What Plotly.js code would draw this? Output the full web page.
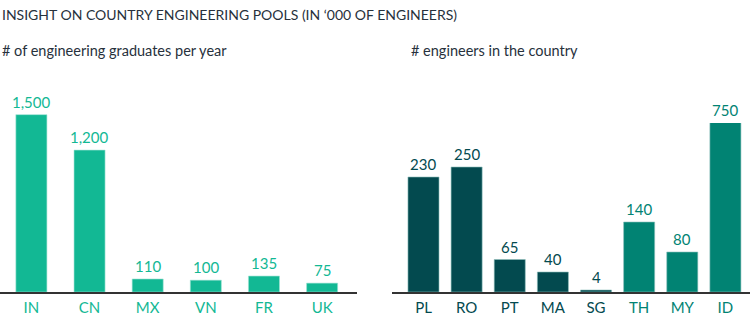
<!DOCTYPE html>
<html>
<head>
<meta charset="utf-8">
<script src="https://cdn.plot.ly/plotly-3.0.1.min.js"></script>
<style>html,body{margin:0;padding:0;background:#fff}#chart{width:750px;height:332px}</style>
</head>
<body>
<div id="chart"></div>
<script>
// Left panel: engineering graduates per year ('000)
const gradCountries = ["IN", "CN", "MX", "VN", "FR", "UK"];
const gradValues = [1500, 1200, 110, 100, 135, 75];
// Right panel: engineers in the country ('000)
const engCountries = ["PL", "RO", "PT", "MA", "SG", "TH", "MY", "ID"];
const engValues = [230, 250, 65, 40, 4, 140, 80, 750];
const engGroup = ["dark", "dark", "dark", "dark", "dark", "mid", "mid", "mid"];

const GREEN = "#12b894";
const DARK = "#034a4f";
const MID = "#018373";
const FONT = "Lato, 'Open Sans', sans-serif";

const y1Max = 1700;
const y2Max = 338;

const engColors = engGroup.map(g => g === "dark" ? DARK : MID);

const traces = [
  {
    type: "bar", x: gradCountries, y: gradValues, xaxis: "x", yaxis: "y",
    width: 0.534,
    marker: {color: GREEN, line: {color: "#9fe3d4", width: 0.6}},
    hoverinfo: "none"
  },
  {
    type: "bar", x: engCountries, y: engValues, xaxis: "x2", yaxis: "y2",
    width: 0.72,
    marker: {color: engColors, line: {color: "#8fbfbc", width: 0.6}},
    hoverinfo: "none"
  }
];

const annotations = [];
gradCountries.forEach((c, i) => {
  annotations.push({
    xref: "x", yref: "y", x: c, y: Math.min(gradValues[i], y1Max),
    text: gradValues[i].toLocaleString("en-US"), showarrow: false,
    yanchor: "bottom", yshift: 2,
    font: {family: FONT, size: 15, color: GREEN}
  });
});
engCountries.forEach((c, i) => {
  annotations.push({
    xref: "x2", yref: "y2", x: c, y: Math.min(engValues[i], y2Max),
    text: engValues[i].toLocaleString("en-US"), showarrow: false,
    yanchor: "bottom", yshift: 2,
    font: {family: FONT, size: 15, color: engColors[i]}
  });
});
annotations.push({
  xref: "paper", yref: "paper", x: 0, y: 1, xanchor: "left", yanchor: "top", yshift: -4,
  text: "INSIGHT ON COUNTRY ENGINEERING POOLS (IN ‘000 OF ENGINEERS)", showarrow: false,
  font: {family: FONT, size: 14, color: "#27313c"}
});
annotations.push({
  xref: "paper", yref: "paper", x: 0, y: 1, xanchor: "left", yanchor: "top", yshift: -40,
  text: "# of engineering graduates per year", showarrow: false,
  font: {family: FONT, size: 14.5, color: "#27313c"}
});
annotations.push({
  xref: "paper", yref: "paper", x: 409/750, y: 1, xanchor: "left", yanchor: "top", yshift: -40,
  text: "# engineers in the country", showarrow: false,
  font: {family: FONT, size: 14.5, color: "#27313c"}
});

const engTickText = engCountries.map((c, i) => `<span style="color:${engColors[i]}">${c}</span>`);

const layout = {
  width: 750, height: 332,
  margin: {l: 0, r: 0, t: 0, b: 0},
  paper_bgcolor: "#fff", plot_bgcolor: "#fff",
  showlegend: false,
  font: {family: FONT},
  xaxis: {
    domain: [0, 357/750], range: [-0.54, 5.6], anchor: "y",
    showline: true, linecolor: "#333", linewidth: 1.5, ticks: "", ticklabelstandoff: 1,
    tickfont: {family: FONT, size: 15, color: GREEN}, showgrid: false, zeroline: false,
    automargin: false, fixedrange: true
  },
  yaxis: {
    domain: [40/332, (332-91)/332], range: [0, y1Max], anchor: "x",
    visible: false, showgrid: false, zeroline: false, fixedrange: true
  },
  xaxis2: {
    domain: [392/750, 1], range: [-0.73, 7.57], anchor: "y2",
    tickmode: "array", tickvals: engCountries, ticktext: engTickText,
    showline: true, linecolor: "#333", linewidth: 1.5, ticks: "", ticklabelstandoff: 1,
    tickfont: {family: FONT, size: 15, color: DARK}, showgrid: false, zeroline: false,
    automargin: false, fixedrange: true
  },
  yaxis2: {
    domain: [40/332, (332-123)/332], range: [0, y2Max], anchor: "x2",
    visible: false, showgrid: false, zeroline: false, fixedrange: true
  },
  annotations: annotations
};

Plotly.newPlot("chart", traces, layout, {displayModeBar: false, staticPlot: true});
</script>
</body>
</html>
